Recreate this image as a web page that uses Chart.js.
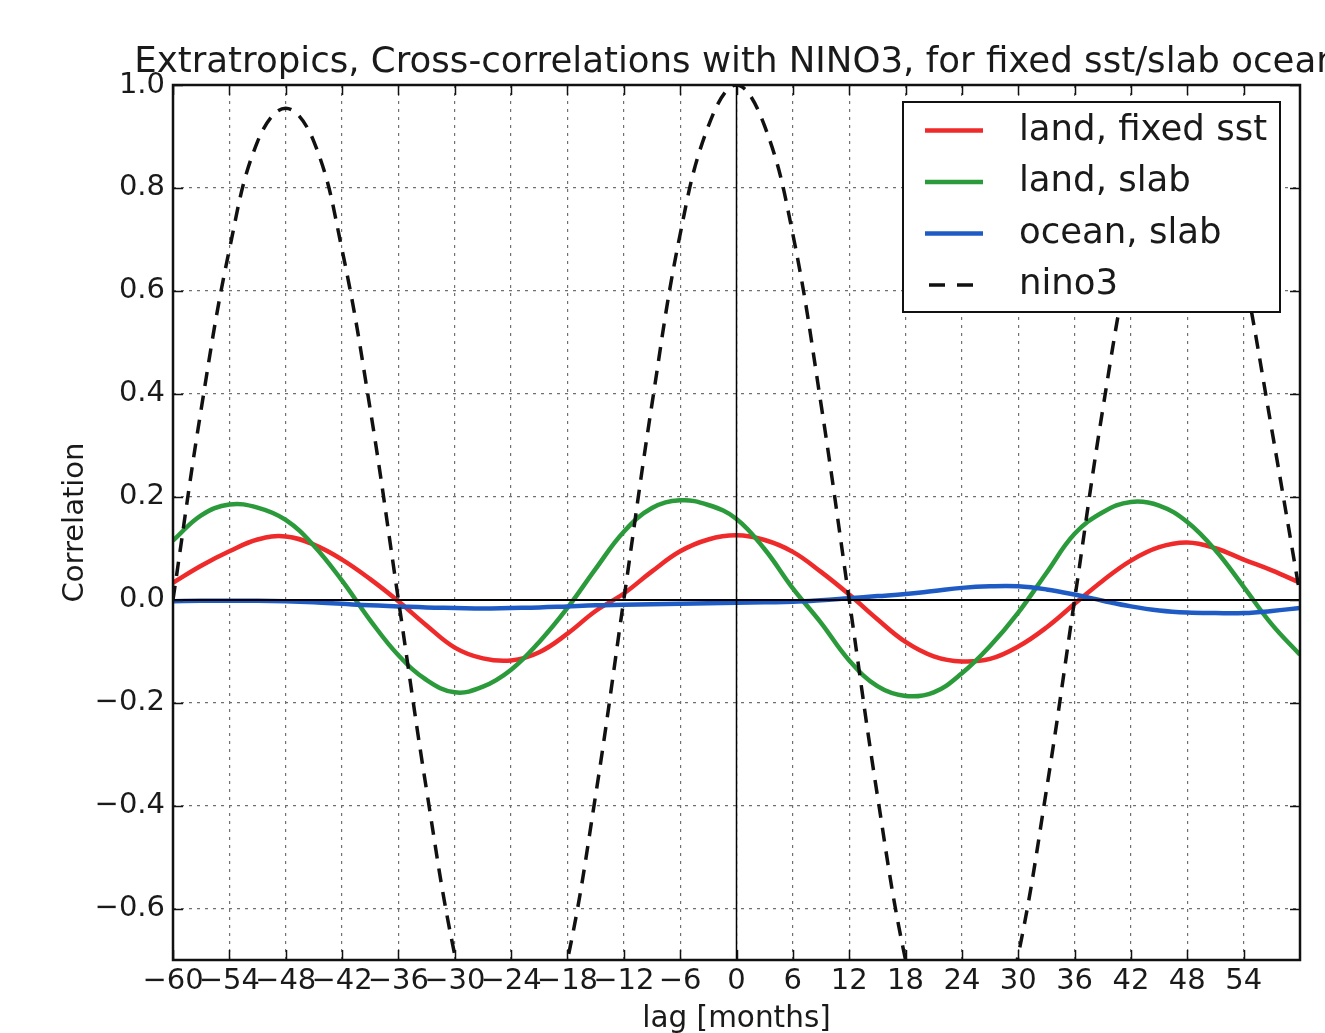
<!DOCTYPE html>
<html>
<head>
<meta charset="utf-8">
<script src="https://cdn.jsdelivr.net/npm/chart.js@4.4.1/dist/chart.umd.min.js"></script>
<style>
  html, body { margin: 0; padding: 0; background: #ffffff; overflow: hidden; }
  #wrap { width: 1325px; height: 1033px; position: relative; }
</style>
</head>
<body>
<div id="wrap"><canvas id="c" width="1325" height="1033"></canvas></div>
<script>
// Lag in months (sampled every 3 months)
const lags = [-60,-57,-54,-51,-48,-45,-42,-39,-36,-33,-30,-27,-24,-21,-18,-15,-12,-9,-6,-3,
              0,3,6,9,12,15,18,21,24,27,30,33,36,39,42,45,48,51,54,57,60];

// Cross-correlation with NINO3, land points, fixed SST run
const landFixedSst = [0.033,0.066,0.094,0.117,0.123,0.107,0.078,0.040,-0.003,-0.050,-0.093,-0.114,-0.118,-0.102,-0.066,-0.022,0.012,0.055,0.094,0.117,
                      0.125,0.116,0.093,0.054,0.010,-0.038,-0.082,-0.110,-0.120,-0.115,-0.091,-0.054,-0.008,0.037,0.076,0.102,0.111,0.100,0.078,0.057,0.033];

// Land points, slab ocean run
const landSlab = [0.115,0.164,0.185,0.179,0.155,0.105,0.037,-0.040,-0.108,-0.156,-0.180,-0.169,-0.136,-0.082,-0.016,0.060,0.132,0.178,0.193,0.184,
                  0.157,0.098,0.022,-0.045,-0.118,-0.168,-0.187,-0.180,-0.143,-0.090,-0.025,0.052,0.128,0.170,0.190,0.183,0.151,0.096,0.025,-0.048,-0.107];

// Ocean points, slab ocean run
const oceanSlab = [-0.003,-0.002,-0.002,-0.002,-0.003,-0.005,-0.008,-0.011,-0.013,-0.015,-0.016,-0.017,-0.016,-0.015,-0.013,-0.011,-0.010,-0.009,-0.008,-0.007,
                   -0.006,-0.005,-0.004,-0.001,0.003,0.007,0.011,0.017,0.023,0.026,0.026,0.020,0.010,-0.002,-0.013,-0.021,-0.025,-0.026,-0.026,-0.022,-0.016];

// NINO3 autocorrelation
const nino3 = [0.0,0.37,0.68,0.89,0.955,0.89,0.68,0.37,0.0,-0.37,-0.69,-0.90,-0.97,-0.90,-0.70,-0.38,0.0,0.38,0.71,0.92,
               1.0,0.92,0.71,0.38,0.0,-0.38,-0.70,-0.90,-0.97,-0.90,-0.69,-0.37,0.0,0.37,0.68,0.89,0.95,0.89,0.64,0.33,0.01];

const xTickValues = [-60,-54,-48,-42,-36,-30,-24,-18,-12,-6,0,6,12,18,24,30,36,42,48,54];
const yTickValues = [-0.6,-0.4,-0.2,0.0,0.2,0.4,0.6,0.8,1.0];

const seriesNames = ['land, fixed sst', 'land, slab', 'ocean, slab', 'nino3'];
const titleText = 'Extratropics, Cross-correlations with NINO3, for fixed sst/slab ocean';
const xTitle = 'lag [months]';
const yTitle = 'Correlation';

const FONT = '"DejaVu Sans", Verdana, sans-serif';
const INK = '#1a1a1a';

const toPoints = arr => lags.map((x, i) => ({ x: x, y: arr[i] }));
const minus = s => s.replace('-', '\u2212');

// Black reference lines at zero lag and zero correlation
const zeroLines = {
  id: 'zeroLines',
  afterDatasetsDraw(chart) {
    const { ctx, chartArea: a, scales: { x, y } } = chart;
    ctx.save();
    ctx.strokeStyle = '#000';
    ctx.setLineDash([]);
    ctx.lineWidth = 2;
    const y0 = Math.round(y.getPixelForValue(0));
    ctx.beginPath(); ctx.moveTo(a.left, y0); ctx.lineTo(a.right, y0); ctx.stroke();
    ctx.lineWidth = 1.5;
    const x0 = x.getPixelForValue(0);
    ctx.beginPath(); ctx.moveTo(x0, a.top); ctx.lineTo(x0, a.bottom); ctx.stroke();
    ctx.restore();
  }
};

// Axes frame on all four sides with inward tick marks
const frame = {
  id: 'frame',
  afterDraw(chart) {
    const { ctx, chartArea: a, scales: { x, y } } = chart;
    ctx.save();
    ctx.strokeStyle = '#111';
    ctx.setLineDash([]);
    ctx.lineWidth = 1.5;
    const len = 10;
    ctx.beginPath();
    xTickValues.forEach(v => {
      const px = Math.round(x.getPixelForValue(v)) + 0.5;
      ctx.moveTo(px, a.bottom); ctx.lineTo(px, a.bottom - len);
      ctx.moveTo(px, a.top); ctx.lineTo(px, a.top + len);
    });
    yTickValues.forEach(v => {
      const py = Math.round(y.getPixelForValue(v)) + 0.5;
      ctx.moveTo(a.left, py); ctx.lineTo(a.left + len, py);
      ctx.moveTo(a.right, py); ctx.lineTo(a.right - len, py);
    });
    ctx.stroke();
    ctx.lineWidth = 2.5;
    ctx.strokeRect(a.left, a.top, a.right - a.left, a.bottom - a.top);
    ctx.restore();
  }
};

// Boxed legend in the upper right of the plot
const boxLegend = {
  id: 'boxLegend',
  afterDraw(chart) {
    const { ctx } = chart;
    const bx = 903, by = 102, bw = 377, bh = 210;
    ctx.save();
    ctx.fillStyle = '#fff';
    ctx.fillRect(bx, by, bw, bh);
    ctx.strokeStyle = '#111';
    ctx.lineWidth = 2;
    ctx.setLineDash([]);
    ctx.strokeRect(bx, by, bw, bh);
    chart.data.datasets.forEach((ds, i) => {
      const ry = 130.5 + i * 51.5;
      const dashed = ds.borderDash && ds.borderDash.length;
      ctx.strokeStyle = ds.borderColor;
      ctx.lineWidth = ds.borderWidth;
      ctx.setLineDash(dashed ? [16, 12] : []);
      ctx.beginPath();
      ctx.moveTo(dashed ? 929 : 925, ry);
      ctx.lineTo(983, ry);
      ctx.stroke();
      ctx.setLineDash([]);
      ctx.fillStyle = INK;
      ctx.font = '35.5px ' + FONT;
      ctx.textAlign = 'left';
      ctx.textBaseline = 'middle';
      ctx.fillText(ds.label, 1019, ry);
    });
    ctx.restore();
  }
};

// Title centred over the plot area
const plotTitle = {
  id: 'plotTitle',
  afterDraw(chart) {
    const { ctx, chartArea: a } = chart;
    ctx.save();
    ctx.fillStyle = INK;
    ctx.font = '35.6px ' + FONT;
    ctx.textAlign = 'center';
    ctx.textBaseline = 'alphabetic';
    ctx.fillText(titleText, (a.left + a.right) / 2, 72);
    ctx.restore();
  }
};

new Chart(document.getElementById('c'), {
  type: 'line',
  data: {
    datasets: [
      { label: seriesNames[0], data: toPoints(landFixedSst), borderColor: '#ee2a2a', borderWidth: 4.5, tension: 0.4, pointRadius: 0, fill: false, order: 4 },
      { label: seriesNames[1], data: toPoints(landSlab), borderColor: '#2a9a3a', borderWidth: 4.5, tension: 0.4, pointRadius: 0, fill: false, order: 3 },
      { label: seriesNames[2], data: toPoints(oceanSlab), borderColor: '#1f5bc4', borderWidth: 4.5, tension: 0.4, pointRadius: 0, fill: false, order: 2 },
      { label: seriesNames[3], data: toPoints(nino3), borderColor: '#111111', borderWidth: 3.5, borderDash: [14, 10], tension: 0.4, pointRadius: 0, fill: false, order: 1 }
    ]
  },
  options: {
    responsive: false,
    animation: false,
    devicePixelRatio: 1,
    layout: { padding: { top: 85, right: 25, bottom: 0, left: 0 } },
    plugins: { legend: { display: false }, title: { display: false }, tooltip: { enabled: false } },
    scales: {
      x: {
        type: 'linear',
        min: -60, max: 60,
        afterBuildTicks: s => { s.ticks = xTickValues.map(v => ({ value: v })); },
        afterFit: s => { s.height = 73; },
        ticks: {
          autoSkip: false, maxRotation: 0, minRotation: 0, padding: 4,
          color: INK, font: { family: FONT, size: 29 },
          callback: v => minus(String(v))
        },
        grid: { color: '#707070', lineWidth: 1.2, drawTicks: false },
        border: { display: false, dash: [3, 5] },
        title: { display: true, text: xTitle, color: INK, font: { family: FONT, size: 29.5 }, padding: { top: 0, bottom: -4 } }
      },
      y: {
        type: 'linear',
        min: -0.7, max: 1.0,
        afterBuildTicks: s => { s.ticks = yTickValues.map(v => ({ value: v })); },
        afterFit: s => { s.width = 173; },
        ticks: {
          autoSkip: false, padding: 8,
          color: INK, font: { family: FONT, size: 29 },
          callback: v => minus(Number(v).toFixed(1))
        },
        grid: { color: '#707070', lineWidth: 1.2, drawTicks: false },
        border: { display: false, dash: [3, 5] },
        title: { display: true, text: yTitle, color: INK, font: { family: FONT, size: 29 }, padding: { top: 58, bottom: 0 } }
      }
    }
  },
  plugins: [zeroLines, frame, boxLegend, plotTitle]
});
</script>
</body>
</html>
